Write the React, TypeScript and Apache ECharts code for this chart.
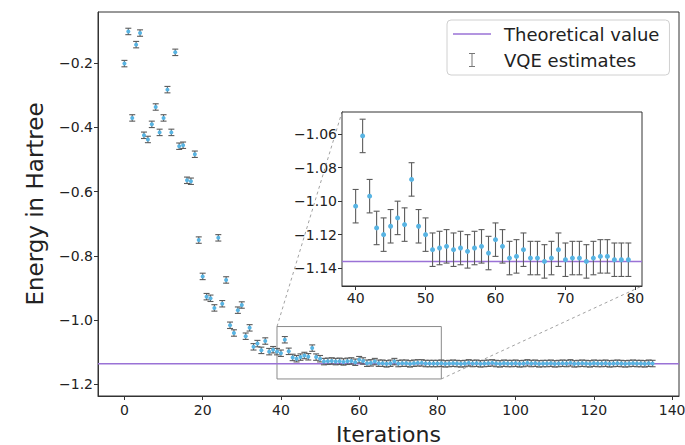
import { useEffect, useRef } from 'react';
import * as echarts from 'echarts';

// ---- data ----
const THEORY = -1.136;
const ERR = 0.01;

const ENERGY_0_39 = [
  -0.202, -0.102, -0.371, -0.143, -0.107, -0.425, -0.438, -0.391, -0.337, -0.416,
  -0.371, -0.283, -0.416, -0.167, -0.459, -0.456, -0.565, -0.568, -0.484, -0.751,
  -0.864, -0.927, -0.932, -0.962, -0.744, -0.949, -0.875, -1.016, -1.040, -0.969,
  -0.953, -1.050, -1.024, -1.083, -1.073, -1.094, -1.065, -1.098, -1.092, -1.098,
];
const ENERGY_40_79 = [
  -1.103, -1.061, -1.097, -1.116, -1.120, -1.115, -1.110, -1.114, -1.087, -1.115,
  -1.120, -1.129, -1.128, -1.127, -1.129, -1.128, -1.130, -1.128, -1.127, -1.131,
  -1.123, -1.127, -1.134, -1.133, -1.129, -1.134, -1.134, -1.136, -1.134, -1.129,
  -1.135, -1.134, -1.134, -1.136, -1.134, -1.133, -1.133, -1.135, -1.135, -1.135,
];
const ENERGY_80_135 = [
  -1.135, -1.134, -1.136, -1.135, -1.134, -1.135, -1.136, -1.135,
  -1.133, -1.135, -1.134, -1.136, -1.135, -1.134, -1.133, -1.135,
  -1.136, -1.134, -1.135, -1.135, -1.134, -1.136, -1.135, -1.133,
  -1.135, -1.134, -1.136, -1.135, -1.135, -1.134, -1.136, -1.135,
  -1.134, -1.135, -1.133, -1.136, -1.135, -1.134, -1.135, -1.136,
  -1.134, -1.135, -1.135, -1.134, -1.136, -1.135, -1.134, -1.135,
  -1.136, -1.135, -1.134, -1.135, -1.135, -1.136, -1.134, -1.135,
];
const ENERGIES = [...ENERGY_0_39, ...ENERGY_40_79, ...ENERGY_80_135];

const MAIN_X_TICKS = [0, 20, 40, 60, 80, 100, 120, 140];
const MAIN_Y_TICKS = [-1.2, -1.0, -0.8, -0.6, -0.4, -0.2];
const INSET_X_TICKS = [40, 50, 60, 70, 80];
const INSET_Y_TICKS = [-1.14, -1.12, -1.1, -1.08, -1.06];
const INSET_ITER = [40, 79];
const ZOOM_BOX_X = [39, 81];
const ZOOM_BOX_Y = [-1.183, -1.02];

// ---- layout / style ----
const W = 685;
const H = 445;
const MAIN = { left: 98, top: 12, width: 581, height: 384 };
const INSET = { left: 342, top: 112, width: 300, height: 174 };
const MAIN_X_RANGE = [-6.75, 141.75];
const MAIN_Y_RANGE = [-1.236, -0.0415];
const INSET_X_RANGE = [38.05, 80.95];
const INSET_Y_RANGE = [-1.1507, -1.0467];
const PURPLE = '#9a72d6';
const BLUE = '#58b4e3';
const BAR = '#5c5c5c';
const FONT = 'DejaVu Sans';

const fmt = (n: number) => (v: number) => v.toFixed(n).replace('-', '\u2212');

const errorBarRender = (cap: number) => (params: any, api: any) => {
  const x = api.value(0);
  const y = api.value(1);
  const e = api.value(2);
  const top = api.coord([x, y + e]);
  const bot = api.coord([x, y - e]);
  const st = { stroke: BAR, lineWidth: 1.1 };
  return {
    type: 'group',
    children: [
      { type: 'line', shape: { x1: top[0], y1: top[1], x2: bot[0], y2: bot[1] }, style: st },
      { type: 'line', shape: { x1: top[0] - cap, y1: top[1], x2: top[0] + cap, y2: top[1] }, style: st },
      { type: 'line', shape: { x1: bot[0] - cap, y1: bot[1], x2: bot[0] + cap, y2: bot[1] }, style: st },
    ],
  };
};

export default function App() {
  const ref = useRef<HTMLDivElement>(null);
  useEffect(() => {
    if (!ref.current) return;
    const chart = echarts.init(ref.current, null, { renderer: 'svg' });
    const all = ENERGIES.map((v, i) => [i, v, ERR]);
    const inset = all.filter((d) => d[0] >= INSET_ITER[0] && d[0] <= INSET_ITER[1]);

    const axisCommon = {
      type: 'value',
      splitLine: { show: false },
      axisLine: { show: true, onZero: false, lineStyle: { color: '#333', width: 1 } },
      axisTick: { show: true, length: 4, lineStyle: { color: '#333' } },
      axisLabel: { color: '#222', fontSize: 14, fontFamily: FONT, margin: 5 },
    };

    chart.setOption({
      animation: false,
      backgroundColor: '#fff',
      textStyle: { fontFamily: FONT },
      grid: [
        {
          ...MAIN,
          show: true,
          borderColor: '#333',
          borderWidth: 1,
          backgroundColor: 'transparent',
          containLabel: false,
          outerBoundsMode: 'none',
        },
        {
          ...INSET,
          show: true,
          borderColor: '#333',
          borderWidth: 1,
          backgroundColor: '#fff',
          containLabel: false,
          outerBoundsMode: 'none',
          z: 5,
        },
      ],
      legend: {
        left: 447,
        top: 20,
        orient: 'vertical',
        itemWidth: 38,
        itemHeight: 14,
        itemGap: 8,
        padding: [5, 10, 6, 6],
        backgroundColor: 'rgba(255,255,255,0.85)',
        borderColor: '#d0d0d0',
        borderWidth: 1,
        borderRadius: 4,
        textStyle: { fontSize: 18, color: '#222', fontFamily: FONT, padding: [0, 0, 0, 8] },
        data: [
          {
            name: 'Theoretical value',
            icon: 'path://M0,0H40V1.6H0Z',
            itemStyle: { color: PURPLE },
          },
          {
            name: 'VQE estimates',
            icon: 'path://M2,0H8V1H5.5V13H8V14H2V13H4.5V1H2Z',
            itemStyle: { color: '#777' },
          },
        ],
      },
      xAxis: [
        {
          ...axisCommon,
          gridIndex: 0,
          min: MAIN_X_RANGE[0],
          max: MAIN_X_RANGE[1],
          axisTick: { ...axisCommon.axisTick, customValues: MAIN_X_TICKS },
          axisLabel: { ...axisCommon.axisLabel, margin: 7, customValues: MAIN_X_TICKS, formatter: fmt(0) },
          name: 'Iterations',
          nameLocation: 'middle',
          nameGap: 27,
          nameTextStyle: { fontSize: 22, color: '#222', fontFamily: FONT },
        },
        {
          ...axisCommon,
          gridIndex: 1,
          min: INSET_X_RANGE[0],
          max: INSET_X_RANGE[1],
          axisTick: { ...axisCommon.axisTick, customValues: INSET_X_TICKS },
          axisLabel: { ...axisCommon.axisLabel, customValues: INSET_X_TICKS, formatter: fmt(0) },
        },
      ],
      yAxis: [
        {
          ...axisCommon,
          gridIndex: 0,
          min: MAIN_Y_RANGE[0],
          max: MAIN_Y_RANGE[1],
          axisTick: { ...axisCommon.axisTick, customValues: MAIN_Y_TICKS },
          axisLabel: { ...axisCommon.axisLabel, customValues: MAIN_Y_TICKS, formatter: fmt(1) },
          name: 'Energy in Hartree',
          nameLocation: 'middle',
          nameGap: 52,
          nameTextStyle: { fontSize: 23, color: '#222', fontFamily: FONT },
        },
        {
          ...axisCommon,
          gridIndex: 1,
          min: INSET_Y_RANGE[0],
          max: INSET_Y_RANGE[1],
          axisTick: { ...axisCommon.axisTick, customValues: INSET_Y_TICKS },
          axisLabel: { ...axisCommon.axisLabel, customValues: INSET_Y_TICKS, formatter: fmt(2) },
        },
      ],
      series: [
        {
          type: 'custom',
          name: 'zoom box',
          xAxisIndex: 0,
          yAxisIndex: 0,
          silent: true,
          z: 1,
          data: [[ZOOM_BOX_X[0], ZOOM_BOX_Y[1], ZOOM_BOX_X[1], ZOOM_BOX_Y[0]]],
          renderItem: (params: any, api: any) => {
            const tl = api.coord([api.value(0), api.value(1)]);
            const br = api.coord([api.value(2), api.value(3)]);
            const dash = { stroke: '#8a8a8a', lineWidth: 0.8, lineDash: [3, 3] };
            return {
              type: 'group',
              children: [
                {
                  type: 'rect',
                  shape: { x: tl[0], y: tl[1], width: br[0] - tl[0], height: br[1] - tl[1] },
                  style: { fill: 'none', stroke: '#8a8a8a', lineWidth: 1 },
                },
                { type: 'line', shape: { x1: tl[0], y1: tl[1], x2: INSET.left, y2: INSET.top }, style: dash },
                {
                  type: 'line',
                  shape: { x1: br[0], y1: br[1], x2: INSET.left + INSET.width, y2: INSET.top + INSET.height },
                  style: dash,
                },
              ],
            };
          },
        },
        {
          type: 'line',
          name: 'Theoretical value',
          xAxisIndex: 0,
          yAxisIndex: 0,
          symbol: 'none',
          color: PURPLE,
          lineStyle: { color: PURPLE, width: 1.5 },
          data: [[MAIN_X_RANGE[0], THEORY], [MAIN_X_RANGE[1], THEORY]],
          z: 2,
        },
        {
          type: 'custom',
          name: 'VQE estimates',
          xAxisIndex: 0,
          yAxisIndex: 0,
          renderItem: errorBarRender(3),
          data: all,
          z: 3,
        },
        {
          type: 'scatter',
          name: 'VQE estimates',
          xAxisIndex: 0,
          yAxisIndex: 0,
          symbolSize: 4,
          itemStyle: { color: BLUE, opacity: 1 },
          data: all.map((d) => [d[0], d[1]]),
          z: 4,
        },
        {
          type: 'line',
          name: 'Theoretical value',
          xAxisIndex: 1,
          yAxisIndex: 1,
          symbol: 'none',
          color: PURPLE,
          lineStyle: { color: PURPLE, width: 1.5 },
          data: [[INSET_X_RANGE[0], THEORY], [INSET_X_RANGE[1], THEORY]],
          z: 6,
        },
        {
          type: 'custom',
          name: 'VQE estimates',
          xAxisIndex: 1,
          yAxisIndex: 1,
          renderItem: errorBarRender(3),
          clip: true,
          data: inset,
          z: 7,
        },
        {
          type: 'scatter',
          name: 'VQE estimates',
          xAxisIndex: 1,
          yAxisIndex: 1,
          symbolSize: 5,
          itemStyle: { color: BLUE, opacity: 1 },
          data: inset.map((d) => [d[0], d[1]]),
          z: 8,
        },
      ],
    });
    return () => chart.dispose();
  }, []);

  return (
    <div
      ref={ref}
      style={{ position: 'absolute', left: 0, top: 0, width: W, height: H, background: '#fff' }}
    />
  );
}
